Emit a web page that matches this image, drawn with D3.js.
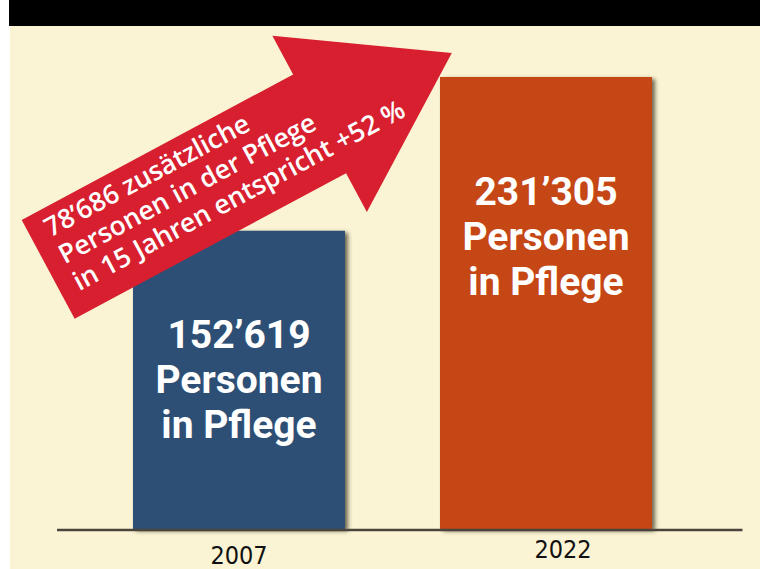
<!doctype html>
<html>
    <head>
        <script src="https://cdn.jsdelivr.net/npm/d3@7/dist/d3.min.js"></script>
        <style>
            html, body {
                margin: 0;
                padding: 0;
                background: #ffffff;
            }
            #viz {
                position: absolute;
                top: 0px;
                left: 0px;
                width: 760px;
                height: 569px;
            }
        </style>
    </head>
    <body>
        <div id="viz"></div>
        <script>
            // data
            var years = ["2007", "2022"];
            var persons = [152619, 231305];
            var barLabels = [
                ["152\u2019619", "Personen", "in Pflege"],
                ["231\u2019305", "Personen", "in Pflege"]
            ];
            var arrowLines = [
                "78\u2019686 zus\u00e4tzliche",
                "Personen in der Pflege",
                "in 15 Jahren entspricht +52 %"
            ];
            var barColors = ["#2e4f74", "#c64715"];

            var w = 760, h = 569;

            var svg = d3.select("#viz").append("svg")
                .attr("width", w)
                .attr("height", h);

            var defs = svg.append("defs");
            var f = defs.append("filter")
                .attr("id", "shadow")
                .attr("x", "-10%").attr("y", "-10%")
                .attr("width", "130%").attr("height", "130%");
            f.append("feDropShadow")
                .attr("dx", 3)
                .attr("dy", 2)
                .attr("stdDeviation", 2.2)
                .attr("flood-color", "#3b3524")
                .attr("flood-opacity", 0.75);

            // background
            svg.append("rect")
                .attr("x", 10).attr("y", 0)
                .attr("width", w - 10).attr("height", h)
                .attr("fill", "#fbf4d4");
            svg.append("rect")
                .attr("x", 9).attr("y", 0)
                .attr("width", w - 9).attr("height", 26)
                .attr("fill", "#000000");

            var x = d3.scaleBand()
                .domain(years)
                .range([133, 652])
                .paddingInner(95 / 307)
                .paddingOuter(0);

            var y = d3.scaleLinear()
                .domain([0, 231305])
                .range([529, 77]);

            // bars
            svg.selectAll("rect.bar")
                .data(years)
                .enter()
                .append("rect")
                    .attr("class", "bar")
                    .attr("x", function (d) { return x(d); })
                    .attr("y", function (d, i) { return y(persons[i]); })
                    .attr("width", x.bandwidth())
                    .attr("height", function (d, i) { return y(0) - y(persons[i]); })
                    .attr("fill", function (d, i) { return barColors[i]; })
                    .attr("filter", "url(#shadow)");

            // labels inside bars
            var labelDy = [117, 128];
            years.forEach(function (d, i) {
                var t = svg.append("text")
                    .attr("x", x(d) + x.bandwidth() / 2)
                    .attr("y", y(persons[i]) + labelDy[i])
                    .attr("text-anchor", "middle")
                    .attr("fill", "#ffffff")
                    .style("font-family", "Roboto, 'Liberation Sans', sans-serif")
                    .style("font-weight", "700")
                    .style("font-size", "39px");
                barLabels[i].forEach(function (s, k) {
                    t.append("tspan")
                        .attr("x", x(d) + x.bandwidth() / 2)
                        .attr("dy", k === 0 ? 0 : 45)
                        .text(s);
                });
            });

            // axis
            svg.append("line")
                .attr("x1", 57).attr("x2", 742.5)
                .attr("y1", y(0) + 1).attr("y2", y(0) + 1)
                .attr("stroke", "#4a443d")
                .attr("stroke-width", 2.6);

            var axis = svg.append("g")
                .attr("transform", "translate(0," + (y(0) + 1) + ")")
                .call(d3.axisBottom(x).tickSize(0).tickPadding(16));
            axis.select(".domain").remove();
            axis.selectAll("text")
                .attr("fill", "#111111")
                .style("font-family", "'DejaVu Sans Condensed', 'DejaVu Sans', sans-serif")
                .style("font-size", "25px")
                .attr("transform", function (d, i) {
                    return i === 1 ? "translate(17,-6)" : null;
                });

            // arrow
            var shaftLen = 308, shaftW = 112, headW = 200, headLen = 150;
            var mid = shaftW / 2;
            var p = d3.path();
            p.moveTo(0, 0);
            p.lineTo(shaftLen, 0);
            p.lineTo(shaftLen, mid - headW / 2);
            p.lineTo(shaftLen + headLen, mid);
            p.lineTo(shaftLen, mid + headW / 2);
            p.lineTo(shaftLen, shaftW);
            p.lineTo(0, shaftW);
            p.closePath();

            var arrow = svg.append("g")
                .attr("transform", "translate(21.7,220) rotate(-28.2)");
            arrow.append("path")
                .attr("d", p.toString())
                .attr("fill", "#d81f2f");

            arrow.selectAll("text")
                .data(arrowLines)
                .enter()
                .append("text")
                    .attr("x", 17)
                    .attr("y", function (d, i) { return 29 + i * 30.5; })
                    .attr("fill", "#ffffff")
                    .style("font-family", "'Open Sans', sans-serif")
                    .style("font-weight", "600")
                    .style("font-size", "26.5px")
                    .text(function (d) { return d; });
        </script>
    </body>
</html>
